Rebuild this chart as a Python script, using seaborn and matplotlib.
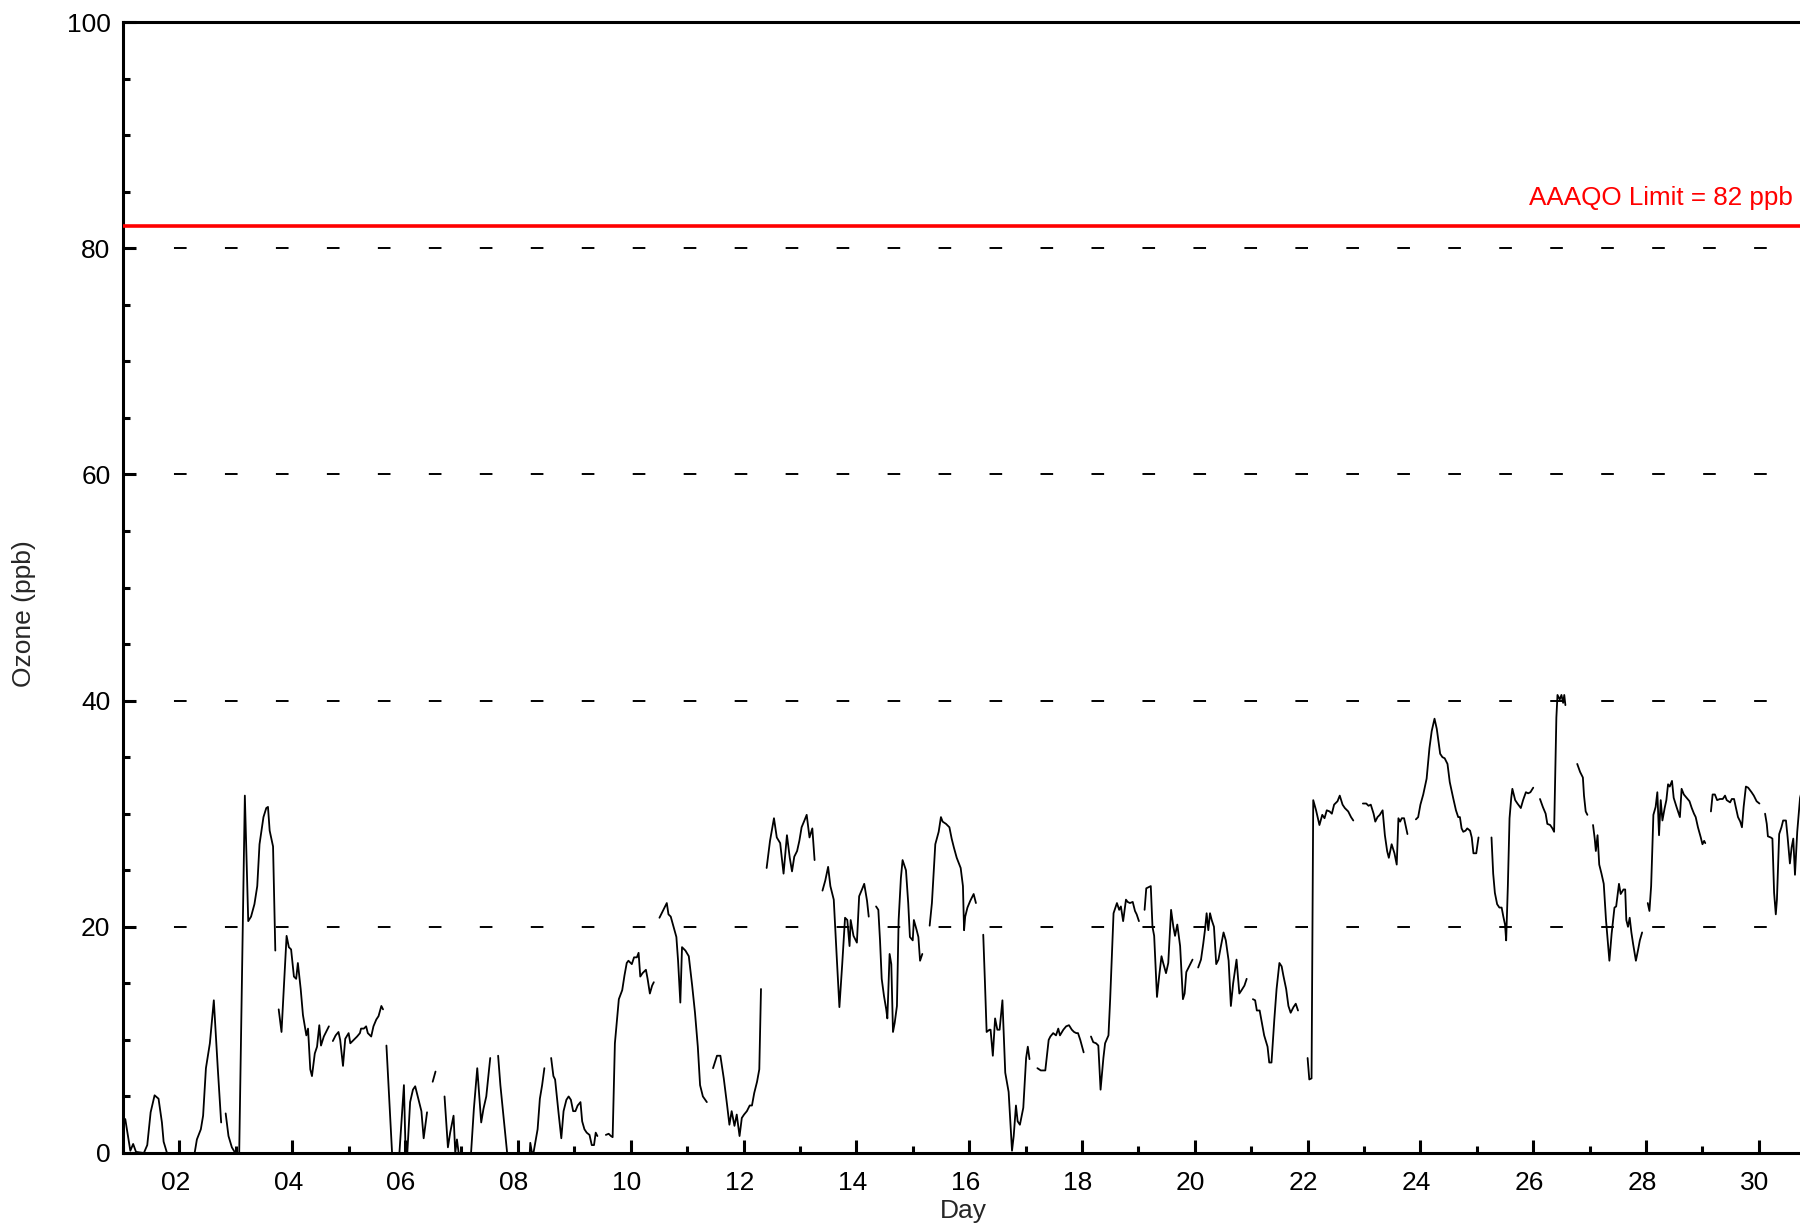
import numpy as np
import pandas as pd
import matplotlib
matplotlib.use("Agg")
import matplotlib.pyplot as plt
import matplotlib.transforms as mtransforms
import seaborn as sns
from matplotlib.ticker import MultipleLocator, FixedLocator, FixedFormatter

nan = np.nan

# Hourly ozone readings (day of month as float); nan marks a gap in the record
day = [
    1.04, 1.13, 1.18, 1.23, 1.37, 1.43, 1.49, 1.56, 1.63, 1.69, 1.72, 1.78, 2.00, 2.27, 2.31, 2.38, 2.42, 2.47, 2.54, 2.61, 2.68, 2.74, nan,
    2.82, 2.87, 2.93, 2.99, 3.06, 3.16, 3.22, 3.27, 3.33, 3.38, 3.42, 3.49, 3.54, 3.57, 3.60, 3.66, 3.70, nan,
    3.76, 3.81, 3.85, 3.90, 3.94, 3.98, 4.03, 4.07, 4.10, 4.15, 4.19, 4.25, 4.28, 4.32, 4.35, 4.40, 4.44, 4.48, 4.51, 4.56, 4.65, nan,
    4.72, 4.77, 4.82, 4.85, 4.90, 4.94, 5.00, 5.03, 5.09, 5.15, 5.20, 5.22, 5.27, 5.31, 5.34, 5.40, 5.44, 5.49, 5.53, 5.58, 5.61, nan,
    5.67, 5.77, 5.90, 5.98, 6.01, 6.04, 6.09, 6.14, 6.18, 6.24, 6.29, 6.33, 6.39, nan,
    6.49, 6.54, nan,
    6.70, 6.76, 6.80, 6.86, 6.89, 6.92, 6.95, 7.17, 7.22, 7.28, 7.35, 7.39, 7.44, 7.51, nan,
    7.65, 7.69, 7.75, 7.81, 8.21, 8.22, 8.25, 8.28, 8.35, 8.39, 8.43, 8.47, nan,
    8.59, 8.63, 8.66, 8.72, 8.77, 8.81, 8.86, 8.90, 8.94, 8.98, 9.02, 9.06, 9.11, 9.14, 9.18, 9.22, 9.27, 9.31, 9.35, 9.38, 9.41, nan,
    9.56, 9.61, 9.65, 9.68, 9.72, 9.79, 9.85, 9.89, 9.93, 9.96, 10.02, 10.06, 10.11, 10.14, 10.17, 10.21, 10.27, 10.30, 10.34, 10.38, 10.41, nan,
    10.51, 10.58, 10.64, 10.67, 10.71, 10.76, 10.81, 10.84, 10.88, 10.91, 10.97, 11.03, 11.09, 11.14, 11.19, 11.23, 11.28, 11.35, nan,
    11.46, 11.53, 11.59, 11.65, 11.71, 11.75, 11.79, 11.84, 11.88, 11.93, 11.97, 12.01, 12.06, 12.11, 12.15, 12.19, 12.24, 12.28, 12.31, nan,
    12.41, 12.47, 12.54, 12.59, 12.65, 12.71, 12.77, 12.82, 12.86, 12.90, 12.95, 12.99, 13.03, 13.08, 13.12, 13.17, 13.22, 13.26, nan,
    13.40, 13.45, 13.50, 13.54, 13.60, 13.65, 13.70, 13.75, 13.80, 13.84, 13.88, 13.90, 13.95, 14.01, 14.05, 14.10, 14.14, 14.19, 14.22, nan,
    14.35, 14.39, 14.42, 14.45, 14.49, 14.53, 14.55, 14.59, 14.62, 14.65, 14.68, 14.72, 14.75, 14.79, 14.82, 14.88, 14.92, 14.95, 15.00, 15.02, 15.07, 15.10, 15.13, 15.17, nan,
    15.30, 15.34, 15.40, 15.46, 15.50, 15.53, 15.59, 15.65, 15.69, 15.73, 15.78, 15.85, 15.89, 15.91, 15.93, 15.97, 16.02, 16.08, 16.12, nan,
    16.25, 16.28, 16.31, 16.36, 16.38, 16.42, 16.46, 16.50, 16.54, 16.59, 16.64, 16.70, 16.76, 16.79, 16.83, 16.86, 16.90, 16.96, 17.01, 17.04, 17.07, nan,
    17.21, 17.27, 17.35, 17.41, 17.44, 17.49, 17.54, 17.58, 17.61, 17.67, 17.72, 17.77, 17.82, 17.86, 17.90, 17.93, 17.97, 18.03, nan,
    18.16, 18.20, 18.25, 18.29, 18.33, 18.38, 18.41, 18.47, 18.50, 18.56, 18.62, 18.66, 18.69, 18.73, 18.78, 18.81, 18.85, 18.90, 18.94, 18.97, 19.01, nan,
    19.11, 19.14, 19.18, 19.22, 19.25, 19.28, 19.33, 19.37, 19.41, 19.44, 19.49, 19.53, 19.58, 19.62, 19.65, 19.69, 19.74, 19.79, 19.82, 19.85, 19.89, 19.93, 19.96, nan,
    20.06, 20.11, 20.15, 20.18, 20.21, 20.24, 20.27, 20.30, 20.34, 20.38, 20.42, 20.46, 20.51, 20.55, 20.60, 20.64, 20.68, 20.74, 20.79, 20.83, 20.88, 20.92, nan,
    21.03, 21.07, 21.10, 21.15, 21.19, 21.23, 21.29, 21.32, 21.36, 21.41, 21.45, 21.50, 21.54, 21.57, 21.62, 21.66, 21.70, 21.75, 21.79, 21.83, nan,
    22.00, 22.03, 22.07, 22.10, 22.15, 22.21, 22.26, 22.30, 22.34, 22.39, 22.43, 22.47, 22.53, 22.57, 22.62, 22.66, 22.72, 22.77, 22.81, nan,
    22.98, 23.04, 23.08, 23.12, 23.17, 23.20, 23.24, 23.28, 23.33, 23.37, 23.41, 23.44, 23.49, 23.54, 23.58, 23.61, 23.64, 23.67, 23.71, 23.77, nan,
    23.92, 23.96, 24.00, 24.05, 24.11, 24.16, 24.20, 24.25, 24.29, 24.35, 24.39, 24.43, 24.48, 24.52, 24.58, 24.63, 24.67, 24.70, 24.73, 24.76, 24.80, 24.83, 24.88, 24.91, 24.94, 24.99, 25.03, nan,
    25.26, 25.29, 25.32, 25.36, 25.40, 25.44, 25.47, 25.50, 25.52, 25.55, 25.58, 25.61, 25.63, 25.68, 25.72, 25.78, 25.82, 25.87, 25.91, 25.95, 26.00, nan,
    26.12, 26.17, 26.22, 26.25, 26.30, 26.34, 26.37, 26.41, 26.43, 26.47, 26.50, 26.53, 26.55, 26.57, nan,
    26.78, 26.83, 26.88, 26.90, 26.93, 26.96, nan,
    27.06, 27.09, 27.11, 27.14, 27.17, 27.21, 27.25, 27.29, 27.32, 27.35, 27.39, 27.44, 27.47, 27.49, 27.52, 27.55, 27.60, 27.63, 27.65, 27.68, 27.71, 27.74, 27.77, 27.82, 27.86, 27.89, 27.93, nan,
    28.03, 28.06, 28.09, 28.11, 28.13, 28.17, 28.20, 28.23, 28.26, 28.29, 28.33, 28.36, 28.39, 28.42, 28.46, 28.49, 28.54, 28.60, 28.63, 28.67, 28.72, 28.77, 28.81, 28.85, 28.88, 28.92, 28.97, 29.00, 29.03, 29.05, nan,
    29.15, 29.18, 29.22, 29.26, 29.31, 29.36, 29.40, 29.43, 29.49, 29.52, 29.56, 29.59, 29.63, 29.67, 29.70, 29.73, 29.77, 29.81, 29.87, 29.91, 29.96, 30.01, nan,
    30.11, 30.14, 30.16, 30.21, 30.24, 30.27, 30.30, 30.32, 30.36, 30.40, 30.43, 30.48, 30.51, 30.55, 30.58, 30.61, 30.64, 30.68, 30.73, 30.76,
]

ozone = [
    3.0, 0.2, 0.8, 0.1, 0.0, 0.7, 3.6, 5.1, 4.8, 2.7, 1.0, 0.0, 0.0, 0.0, 1.2, 2.1, 3.3, 7.5, 9.7, 13.5, 7.5, 2.7, nan,
    3.5, 1.5, 0.5, 0.0, 0.0, 31.6, 20.5, 20.9, 22.0, 23.6, 27.3, 29.7, 30.5, 30.6, 28.5, 27.1, 17.9, nan,
    12.7, 10.7, 14.5, 19.2, 18.2, 18.0, 15.6, 15.4, 16.8, 14.5, 12.2, 10.4, 11.0, 7.4, 6.8, 8.8, 9.4, 11.3, 9.5, 10.3, 11.2, nan,
    9.9, 10.4, 10.7, 10.0, 7.7, 10.1, 10.6, 9.7, 10.0, 10.3, 10.6, 11.0, 11.0, 11.2, 10.6, 10.3, 11.2, 11.8, 12.1, 13.0, 12.7, nan,
    9.5, 0.0, 0.0, 6.0, 0.0, 0.0, 4.5, 5.6, 5.9, 4.7, 3.7, 1.3, 3.6, nan,
    6.3, 7.2, nan,
    5.0, 0.5, 1.8, 3.3, 0.0, 1.2, 0.0, 0.0, 3.9, 7.5, 2.7, 3.9, 5.0, 8.4, nan,
    8.6, 6.0, 3.0, 0.0, 0.0, 0.9, 0.0, 0.1, 2.1, 4.8, 6.0, 7.5, nan,
    8.4, 6.8, 6.5, 3.6, 1.3, 3.7, 4.7, 5.0, 4.7, 3.7, 3.7, 4.2, 4.5, 2.8, 2.1, 1.8, 1.6, 0.7, 0.7, 1.8, 1.5, nan,
    1.6, 1.7, 1.5, 1.4, 9.7, 13.6, 14.4, 15.7, 16.8, 17.0, 16.7, 17.3, 17.3, 17.7, 15.6, 15.9, 16.2, 15.4, 14.1, 14.8, 15.1, nan,
    20.8, 21.5, 22.1, 21.1, 20.9, 20.0, 19.1, 17.0, 13.3, 18.2, 17.9, 17.4, 14.8, 12.4, 9.4, 6.0, 5.0, 4.5, nan,
    7.5, 8.6, 8.6, 6.6, 4.2, 2.5, 3.7, 2.4, 3.4, 1.5, 3.1, 3.4, 3.7, 4.2, 4.2, 5.3, 6.3, 7.4, 14.5, nan,
    25.2, 27.6, 29.6, 27.9, 27.4, 24.7, 28.1, 26.1, 24.9, 26.2, 26.7, 27.6, 28.8, 29.4, 29.9, 27.9, 28.7, 25.9, nan,
    23.2, 24.1, 25.3, 23.6, 22.4, 17.6, 12.9, 16.7, 20.8, 20.6, 18.3, 20.6, 19.2, 18.6, 22.7, 23.3, 23.8, 22.3, 20.9, nan,
    21.8, 21.5, 18.8, 15.4, 13.9, 12.7, 11.9, 17.6, 16.7, 10.7, 11.5, 13.0, 20.6, 24.3, 25.9, 25.0, 22.1, 19.1, 18.8, 20.6, 19.7, 19.1, 17.0, 17.6, nan,
    20.1, 22.1, 27.3, 28.4, 29.7, 29.3, 29.1, 28.8, 27.8, 27.0, 26.1, 25.2, 23.6, 19.7, 20.9, 21.7, 22.3, 22.9, 22.1, nan,
    19.3, 15.1, 10.7, 10.9, 10.9, 8.6, 11.9, 10.9, 10.9, 13.5, 7.1, 5.4, 0.2, 1.5, 4.2, 2.8, 2.5, 4.0, 8.4, 9.4, 8.3, nan,
    7.5, 7.3, 7.3, 10.0, 10.3, 10.6, 10.4, 11.0, 10.4, 10.9, 11.2, 11.3, 10.9, 10.7, 10.6, 10.6, 10.0, 8.9, nan,
    10.3, 9.8, 9.7, 9.5, 5.6, 8.4, 9.7, 10.4, 13.6, 21.2, 22.1, 21.5, 21.8, 20.5, 22.4, 22.2, 22.1, 22.2, 21.4, 21.1, 20.5, nan,
    21.5, 23.4, 23.5, 23.6, 20.0, 19.2, 13.8, 15.7, 17.4, 16.8, 15.9, 16.8, 21.5, 20.0, 19.2, 20.2, 18.3, 13.6, 14.1, 16.0, 16.4, 16.8, 17.1, nan,
    16.4, 17.1, 18.5, 19.7, 21.2, 19.7, 21.2, 20.6, 20.0, 16.7, 17.1, 18.2, 19.5, 18.8, 17.0, 13.0, 15.0, 17.1, 14.1, 14.4, 14.8, 15.4, nan,
    13.6, 13.5, 12.6, 12.6, 11.5, 10.4, 9.4, 8.0, 8.0, 11.8, 14.5, 16.8, 16.5, 15.7, 14.5, 13.0, 12.4, 12.9, 13.2, 12.6, nan,
    8.4, 6.5, 6.6, 31.2, 30.3, 29.0, 29.9, 29.6, 30.3, 30.2, 30.0, 30.8, 31.1, 31.6, 30.8, 30.5, 30.2, 29.7, 29.4, nan,
    30.9, 30.9, 30.7, 30.8, 30.0, 29.3, 29.7, 29.9, 30.3, 28.1, 26.7, 26.1, 27.3, 26.5, 25.5, 29.6, 29.3, 29.6, 29.6, 28.2, nan,
    29.5, 29.7, 30.8, 31.7, 33.1, 35.8, 37.3, 38.4, 37.5, 35.3, 35.0, 34.9, 34.4, 32.8, 31.4, 30.3, 29.7, 29.7, 28.7, 28.4, 28.5, 28.7, 28.5, 27.9, 26.5, 26.5, 27.9, nan,
    27.9, 24.7, 23.0, 22.0, 21.7, 21.7, 20.9, 20.2, 18.8, 23.6, 29.6, 31.4, 32.2, 31.2, 30.9, 30.5, 31.2, 31.9, 31.8, 31.9, 32.3, nan,
    31.3, 30.6, 30.0, 29.1, 29.0, 28.7, 28.4, 38.5, 40.5, 40.1, 40.5, 39.8, 40.5, 39.6, nan,
    34.4, 33.7, 33.2, 31.6, 30.2, 29.9, nan,
    29.0, 27.8, 26.7, 28.1, 25.5, 24.7, 23.8, 20.6, 18.8, 17.0, 19.4, 21.7, 21.8, 22.6, 23.8, 22.9, 23.3, 23.3, 20.6, 20.0, 20.8, 19.5, 18.5, 17.0, 18.0, 18.8, 19.5, nan,
    22.1, 21.4, 23.6, 26.7, 29.9, 30.6, 31.9, 28.1, 31.2, 29.4, 30.5, 31.2, 32.6, 32.4, 32.9, 31.4, 30.6, 29.7, 32.2, 31.7, 31.4, 31.1, 30.5, 30.0, 29.7, 28.8, 27.9, 27.3, 27.6, 27.4, nan,
    30.2, 31.7, 31.7, 31.2, 31.3, 31.3, 31.6, 31.2, 31.0, 31.3, 31.3, 30.6, 29.7, 29.3, 28.8, 30.6, 32.4, 32.3, 31.9, 31.6, 31.1, 30.9, nan,
    30.0, 29.1, 28.0, 27.9, 27.8, 23.0, 21.1, 22.4, 28.2, 28.8, 29.4, 29.4, 27.9, 25.6, 27.0, 27.8, 24.6, 28.4, 31.4, 32.0,
]

limit_value = 82
limit_label = "AAAQO Limit = 82 ppb"
xtick_days = list(range(2, 31, 2))
xtick_labels = [f"{d:02d}" for d in xtick_days]
ytick_values = [0, 20, 40, 60, 80, 100]
grid_values = [20, 40, 60, 80]
x_label = "Day"
y_label = "Ozone (ppb)"

sns.set_style("white")
plt.rcParams["font.family"] = ["Liberation Sans", "DejaVu Sans"]
plt.rcParams["lines.scale_dashes"] = False

fig = plt.figure(figsize=(18, 12.25), dpi=100)
ax = fig.add_axes([123 / 1800, 72 / 1225, 1681 / 1800, 1131 / 1225])

df = pd.DataFrame({"day": day, "ozone": ozone})
df["seg"] = df["ozone"].isna().cumsum()
df = df.dropna()

# dashed reference lines
for g in grid_values:
    ax.axhline(g, color="black", lw=1.4, linestyle=(0, (9.1, 27.6)), zorder=1)

sns.lineplot(data=df, x="day", y="ozone", units="seg", estimator=None,
             color="black", lw=1.3, ax=ax, legend=False, sort=False, zorder=3)

ax.axhline(limit_value, color="#ff0000", lw=2.6, zorder=4)
ax.text(30.6, 83.8, limit_label, color="#ff0000", fontsize=18.7,
        ha="right", va="baseline")

ax.set_xlim(1.0, 30.8)
ax.set_ylim(0, 100)

ax.xaxis.set_major_locator(FixedLocator(xtick_days))
ax.xaxis.set_major_formatter(FixedFormatter(xtick_labels))
ax.xaxis.set_minor_locator(FixedLocator(list(range(1, 32, 2))))
ax.yaxis.set_major_locator(FixedLocator(ytick_values))
ax.yaxis.set_minor_locator(MultipleLocator(5))

for s in ["left", "bottom", "top", "right"]:
    ax.spines[s].set_visible(True)
    ax.spines[s].set_color("black")
    ax.spines[s].set_linewidth(2.2)

ax.tick_params(axis="both", which="both", direction="in", color="black",
               width=2.2, labelsize=19, labelcolor="black",
               top=False, right=False, left=True, bottom=True)
ax.tick_params(axis="both", which="major", length=9.2)
ax.tick_params(axis="both", which="minor", length=5.0)
ax.tick_params(axis="y", which="major", pad=9)
ax.tick_params(axis="x", which="major", pad=13)

# x tick labels sit slightly left of their ticks in the reference
shift = mtransforms.ScaledTranslation(-4 / 100, 0, fig.dpi_scale_trans)
for lab in ax.get_xticklabels():
    lab.set_transform(lab.get_transform() + shift)

ax.set_xlabel(x_label, fontsize=19, labelpad=3)
ax.set_ylabel(y_label, fontsize=19)
ax.yaxis.set_label_coords(-0.052, 0.4766)

fig.savefig("out.png", dpi=100)
